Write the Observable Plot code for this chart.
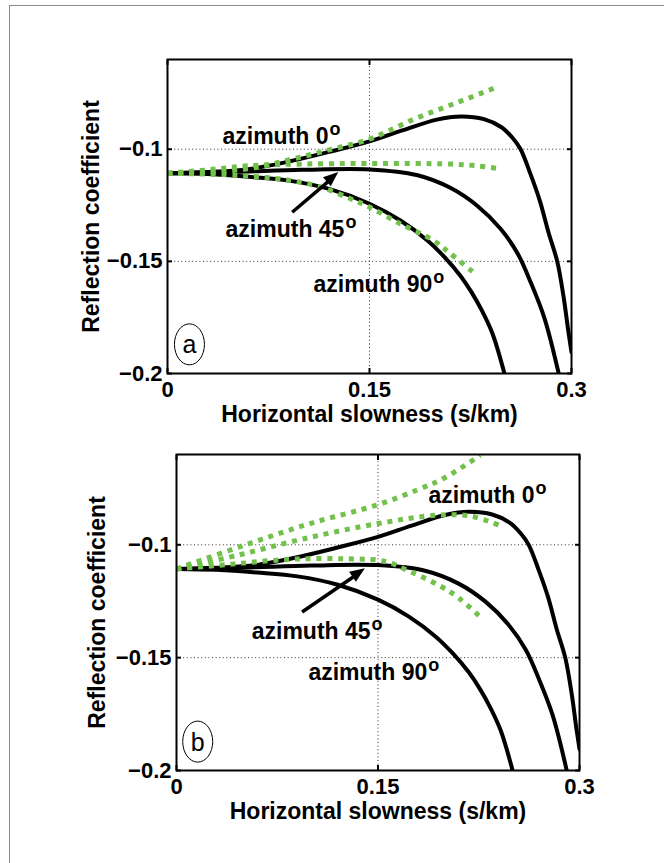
<!DOCTYPE html>
<html><head><meta charset="utf-8">
<script src="https://cdn.jsdelivr.net/npm/d3@7"></script>
<script src="https://cdn.jsdelivr.net/npm/@observablehq/plot@0.6"></script>
<style>
html,body{margin:0;padding:0;background:#fff;}
body{width:664px;height:863px;position:relative;overflow:hidden;}
#frame{position:absolute;left:9px;top:5px;width:700px;height:900px;border:1px solid #8c8c8c;box-sizing:border-box;}
.panel{position:absolute;left:0;}
#pa{top:0;} #pb{top:430px;}
</style></head><body>
<div id="frame"></div>
<div id="pa" class="panel"></div>
<div id="pb" class="panel"></div>
<script>
// ---- data ----
const xTicks = [0, 0.15, 0.3];
const yTicks = [-0.2, -0.15, -0.1];
const xTitle = "Horizontal slowness (s/km)";
const yTitle = "Reflection coefficient";

// exact curves (black), same in both panels
const black0 = [[0,-0.1107],[0.03,-0.1102],[0.06,-0.1089],[0.09,-0.1055],[0.12,-0.1012],[0.15,-0.0965],[0.175,-0.0915],[0.2,-0.0868],[0.218,-0.0854],[0.235,-0.0866],[0.248,-0.0902],[0.256,-0.0948],[0.262,-0.0998],[0.2695,-0.111],[0.2765,-0.123],[0.2831,-0.1375],[0.2894,-0.15],[0.2943,-0.1665],[0.2976,-0.181],[0.3,-0.1905]];
const black45 = [[0,-0.1107],[0.05,-0.1101],[0.1,-0.1092],[0.15,-0.109],[0.185,-0.1115],[0.21,-0.1172],[0.23,-0.1252],[0.2473,-0.1355],[0.26,-0.1465],[0.27,-0.1598],[0.28,-0.1755],[0.2905,-0.2]];
const black90 = [[0,-0.1107],[0.03,-0.1111],[0.06,-0.1123],[0.09,-0.1140],[0.12,-0.1177],[0.15,-0.1243],[0.173,-0.1318],[0.193,-0.1407],[0.2052,-0.1478],[0.2176,-0.1565],[0.2255,-0.1635],[0.2335,-0.172],[0.2413,-0.1822],[0.2502,-0.2]];

// approximations (green), panel a
const green0a = [[0,-0.1107],[0.03,-0.1101],[0.06,-0.1087],[0.09,-0.1048],[0.12,-0.1003],[0.15,-0.0955],[0.183,-0.0866],[0.215,-0.0792],[0.246,-0.072]];
const green45a = [[0,-0.1107],[0.03,-0.1092],[0.06,-0.1074],[0.1,-0.1066],[0.15,-0.1064],[0.21,-0.1066],[0.228,-0.1073],[0.247,-0.1087]];
const green90a = [[0,-0.1107],[0.05,-0.1116],[0.09,-0.1138],[0.1136,-0.1169],[0.136,-0.1221],[0.15,-0.1258],[0.173,-0.1333],[0.1975,-0.1407],[0.21,-0.1465],[0.227,-0.1548]];

// approximations (green), panel b
const green0bUpper = [[0,-0.1107],[0.05,-0.1003],[0.1,-0.0905],[0.15,-0.0822],[0.18,-0.0755],[0.2,-0.0702],[0.2261,-0.0603]];
const green0bLower = [[0,-0.1107],[0.045,-0.1047],[0.095,-0.0973],[0.15,-0.0906],[0.194,-0.0869],[0.219,-0.0873],[0.241,-0.0915]];
const green45b = [[0,-0.1107],[0.045,-0.1084],[0.07,-0.107],[0.095,-0.1062],[0.125,-0.1062],[0.15,-0.1068],[0.16,-0.1082],[0.17,-0.1108],[0.194,-0.1175],[0.21,-0.1235],[0.2274,-0.1327]];

// annotations
const labelsA = [{x:0.0408,y:-0.0975,text:"azimuth 0"},{x:0.0431,y:-0.1392,text:"azimuth 45"},{x:0.1084,y:-0.1638,text:"azimuth 90"}];
const labelsB = [{x:0.1875,y:-0.0815,text:"azimuth 0"},{x:0.056,y:-0.1419,text:"azimuth 45"},{x:0.0982,y:-0.1601,text:"azimuth 90"}];
const arrowA = [{x1:0.0926,y1:-0.1281,x2:0.1272,y2:-0.1104}];
const arrowB = [{x1:0.0935,y1:-0.1298,x2:0.1406,y2:-0.1106}];
const tagA = [{x:0.0163,y:-0.187,text:"a"}];
const tagB = [{x:0.0158,y:-0.1872,text:"b"}];

// ---- drawing ----
const NS = "http://www.w3.org/2000/svg";
const GREEN = "#72c14c";
const FONT = "'Liberation Sans', Arial, Helvetica, sans-serif";
const fmt = d => d === 0 ? "0" : (d < 0 ? "\u2212" : "") + String(Math.abs(d));
const blank = () => "";
const ellipse = {draw(ctx) {
  const rx = 15, ry = 20.5, k = 0.5523;
  ctx.moveTo(rx, 0);
  ctx.bezierCurveTo(rx, ry*k, rx*k, ry, 0, ry);
  ctx.bezierCurveTo(-rx*k, ry, -rx, ry*k, -rx, 0);
  ctx.bezierCurveTo(-rx, -ry*k, -rx*k, -ry, 0, -ry);
  ctx.bezierCurveTo(rx*k, -ry, rx, -ry*k, rx, 0);
  ctx.closePath();
}};
const px = d => d[0], py = d => d[1];

function panel({el, height, margins, greens, labels, arrow, tag, yTitleDx, xTitleDy}) {
  const gridYT = yTicks.filter(t => t > -0.2);
  const gridXT = xTicks.filter(t => t > 0 && t < 0.3);
  const fig = Plot.plot({
    width: 664, height,
    marginLeft: margins[0], marginRight: margins[1], marginTop: margins[2], marginBottom: margins[3],
    x: {domain: [0, 0.3]},
    y: {domain: [-0.2, -0.06]},
    style: {fontFamily: FONT, fontSize: "22px", fontWeight: "bold", color: "black", background: "transparent", overflow: "visible"},
    marks: [
      Plot.gridX(gridXT, {stroke: "#333", strokeOpacity: 1, strokeWidth: 1, strokeDasharray: "1,2.6"}),
      Plot.gridY(gridYT, {stroke: "#333", strokeOpacity: 1, strokeWidth: 1, strokeDasharray: "1,2.6"}),
      Plot.line(black0, {x: px, y: py, stroke: "black", strokeWidth: 4, curve: "catmull-rom", clip: true}),
      Plot.line(black45, {x: px, y: py, stroke: "black", strokeWidth: 4, curve: "catmull-rom", clip: true}),
      Plot.line(black90, {x: px, y: py, stroke: "black", strokeWidth: 4, curve: "catmull-rom", clip: true}),
      ...greens.map(g => Plot.line(g, {x: px, y: py, stroke: GREEN, strokeWidth: 5, strokeDasharray: "5,5.8", strokeLinecap: "butt", strokeLinejoin: "miter", curve: "catmull-rom", clip: true})),
      Plot.arrow(arrow, {x1: "x1", y1: "y1", x2: "x2", y2: "y2", stroke: "black", strokeWidth: 3.5, headLength: 0, insetEnd: 9, strokeLinecap: "butt"}),
      Plot.text(labels, {x: "x", y: "y", text: "text", textAnchor: "start", lineAnchor: "bottom", fontSize: 23, fontWeight: "bold"}),
      Plot.dot(tag, {x: "x", y: "y", symbol: ellipse, r: 10, stroke: "black", strokeWidth: 1, fill: "white"}),
      Plot.text(tag, {x: "x", y: "y", text: "text", fontSize: 25, fontWeight: "normal", lineAnchor: "middle", dy: 1}),
      Plot.frame({stroke: "black", strokeWidth: 2}),
      Plot.axisX(xTicks, {anchor: "bottom", tickSize: -5, tickPadding: 13, tickFormat: fmt, strokeWidth: 2, label: null}),
      Plot.axisX(xTicks, {anchor: "top", tickSize: -5, tickFormat: blank, strokeWidth: 2, label: null}),
      Plot.axisY(yTicks, {anchor: "left", tickSize: -5, tickPadding: 10, tickFormat: fmt, strokeWidth: 2, label: null}),
      Plot.axisY(yTicks, {anchor: "right", tickSize: -5, tickFormat: blank, strokeWidth: 2, label: null}),
      Plot.text([xTitle], {text: d => d, frameAnchor: "bottom", textAnchor: "middle", dy: xTitleDy, lineAnchor: "bottom", fontSize: 23, fontWeight: "bold"}),
      Plot.text([yTitle], {text: d => d, frameAnchor: "left", textAnchor: "middle", rotate: -90, dx: yTitleDx, lineAnchor: "bottom", fontSize: 23, fontWeight: "bold"})
    ]
  });
  // superscript "o" for degrees
  fig.querySelectorAll("text").forEach(t => {
    if (t.textContent.startsWith("azimuth")) {
      const ts = document.createElementNS(NS, "tspan");
      ts.textContent = "o";
      ts.setAttribute("font-size", "18");
      ts.setAttribute("dy", "-9");
      ts.setAttribute("dx", "1");
      t.appendChild(ts);
    }
  });
  // filled arrow head, placed through the plot's scales
  const sx = fig.scale("x"), sy = fig.scale("y");
  arrow.forEach(a => {
    const x1 = sx.apply(a.x1), y1 = sy.apply(a.y1), x2 = sx.apply(a.x2), y2 = sy.apply(a.y2);
    const L = Math.hypot(x2 - x1, y2 - y1), ux = (x2 - x1) / L, uy = (y2 - y1) / L;
    const hl = 15, hw = 6;
    const bx = x2 - ux * hl, by = y2 - uy * hl;
    const poly = document.createElementNS(NS, "polygon");
    poly.setAttribute("points", [[x2, y2], [bx - uy * hw, by + ux * hw], [bx + uy * hw, by - ux * hw]].map(p => p.join(",")).join(" "));
    poly.setAttribute("fill", "black");
    fig.appendChild(poly);
  });
  document.getElementById(el).appendChild(fig);
}

panel({el: "pa", height: 430, margins: [167, 93, 59, 57], greens: [green0a, green45a, green90a], labels: labelsA, arrow: arrowA, tag: tagA, yTitleDx: -69, xTitleDy: 48});
panel({el: "pb", height: 433, margins: [176, 85, 24, 93], greens: [green0bUpper, green0bLower, green45b], labels: labelsB, arrow: arrowB, tag: tagB, yTitleDx: -72, xTitleDy: 48});
</script>
</body></html>
